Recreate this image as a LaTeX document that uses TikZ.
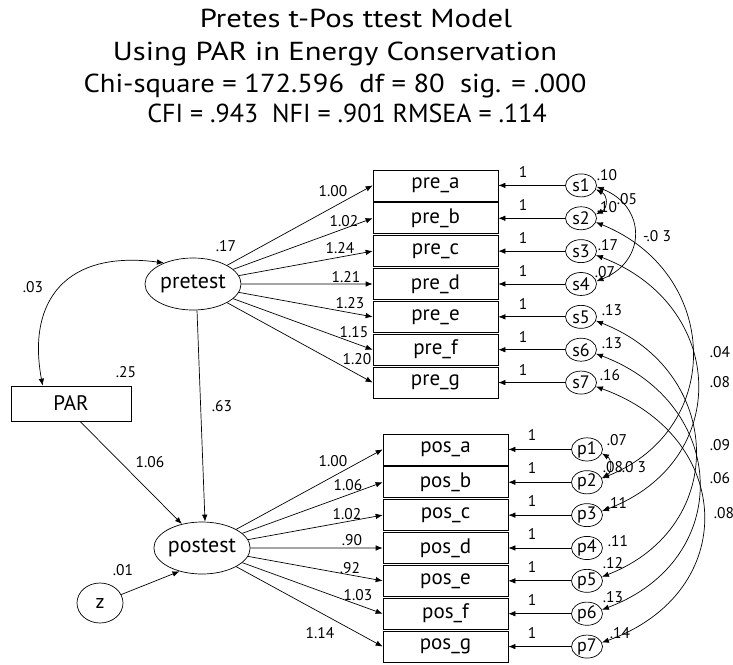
\documentclass[tikz,border=0pt]{standalone}
\usepackage{fontspec}
\setmainfont{PT Sans}
\newfontfamily\headfont[FakeStretch=1.18]{PT Sans}
\newfontfamily\headfontb[FakeStretch=1.1]{PT Sans}
\usetikzlibrary{arrows.meta,shapes.geometric}
\newcommand{\fsz}[1]{\fontsize{#1}{#1}\selectfont}
\begin{document}
\begin{tikzpicture}[x=1pt,y=-1pt,
  line width=0.7pt,
  tip/.tip={Latex[length=7pt,width=5.5pt]},
  arr/.style={-tip},
  cov/.style={tip-tip},
  ttl/.style={anchor=base,inner sep=0pt,font=\headfont\fsz{26}},
  lbl/.style={inner sep=0pt,font=\fsz{15.5}},
  obsbox/.style={draw,minimum width=125pt,minimum height=31pt,inner sep=0pt,font=\fsz{21}},
  errc/.style={draw,ellipse,minimum width=31pt,minimum height=23pt,inner sep=0pt,font=\fsz{18}},
  latent/.style={draw,ellipse,minimum width=96pt,minimum height=52pt,inner sep=0pt,font=\fsz{22}}]
\useasboundingbox (0,0) rectangle (733,664);

% heading
\node[ttl] (t1) at (356,27) {Pretes t-Pos ttest Model};
\node[ttl] (t2) at (335,60) {Using PAR in Energy Conservation};
\node[ttl,font=\headfontb\fsz{26}] (t3) at (335,92) {Chi-square = 172.596\ \ df = 80\ \ sig. = .000};
\node[ttl,font=\rmfamily\fsz{26}] (t4) at (347,122) {CFI = .943\ \ NFI = .901 RMSEA = .114};

% latent variables and PAR
\node[latent] (pretest) at (193,284) {pretest};
\node[latent] (postest) at (202,548) {postest};
\node[draw,minimum width=120pt,minimum height=35pt,inner sep=0pt,font=\fsz{21}] (PAR) at (71,403.5) {PAR};
\node[draw,ellipse,minimum width=46pt,minimum height=40pt,inner sep=0pt,font=\fsz{20}] (z) at (100,603) {z};

% indicators with their error terms
\foreach \n [count=\i] in {a,b,c,d,e,f,g} {
  \pgfmathsetmacro{\ya}{185.4+32.86*(\i-1)}
  \pgfmathsetmacro{\yb}{449.4+32.86*(\i-1)}
  \node[obsbox] (pre\n) at (435.5,\ya) {pre\_\n};
  \node[obsbox] (pos\n) at (445.5,\yb) {pos\_\n};
  \node[errc] (s\i) at (581,\ya) {s\i};
  \node[errc] (p\i) at (587,\yb) {p\i};
  \draw[arr] (s\i) -- (pre\n.east);
  \draw[arr] (p\i) -- (pos\n.east);
  \node[lbl] (ls\i) at (523,\ya-13) {1};
  \node[lbl] (lp\i) at (532,\yb-14) {1};
  \draw[arr] (pretest) -- (pre\n.west);
  \draw[arr] (postest) -- (pos\n.west);
}

% loadings
\foreach \v/\x/\y [count=\i] in {1.00/333/191,1.02/344/221,1.24/340/248,1.21/346/277,1.23/350/303,1.15/354/332,1.20/357/359}
  \node[lbl] (la\i) at (\x,\y) {\v};
\foreach \v/\x/\y [count=\i] in {1.00/333/461,1.06/348/485,1.02/347/514,.90/352/540,.92/350/568,1.03/358/595,1.14/320/633}
  \node[lbl] (lb\i) at (\x,\y) {\v};

% error variances
\foreach \v/\x/\y [count=\i] in {.10/607/175,.10/607/207,.17/608/245,.07/605/272,.13/612/310,.13/612/343,.16/610/375}
  \node[lbl] (vs\i) at (\x,\y) {\v};
\foreach \v/\x/\y [count=\i] in {.07/617/440,.08/613/467,.11/617/503,.11/618/541,.12/613/563,.13/613/597,.14/620/633}
  \node[lbl] (vp\i) at (\x,\y) {\v};

% structural paths
\draw[arr] ([xshift=4pt]pretest.south) -- ([xshift=3pt]postest.north);
\draw[arr] ([xshift=9pt]PAR.south) -- (postest.130);
\draw[arr] (z) -- (postest.226);
\draw[cov] ([xshift=32pt]PAR.north west) .. controls +(-16,-86) and +(-97,-13) .. (pretest.144);
\node[lbl] (l63) at (222,406) {.63};
\node[lbl] (l106) at (150,462) {1.06};
\node[lbl] (l01) at (123,570) {.01};
\node[lbl] (l03) at (33,287) {.03};
\node[lbl] (l25) at (126,372) {.25};
\node[lbl] (l17) at (226,246) {.17};

% error covariances
\draw[cov] (s1.-15) .. controls +(12,6) and +(12,-6) .. (s2.15);
\draw[cov] (s1.-5) .. controls +(50,20) and +(50,-20) .. (s4.10);
\draw[cov] (p1.-15) .. controls +(10,6) and +(10,-6) .. (p2.15);
\draw[cov] (s2.-15) .. controls +(124,50) and +(124,-50) .. (p2.15);
\draw[cov] (s3.-15) .. controls +(131,50) and +(131,-50) .. (p3.15);
\draw[cov] (s5.-15) .. controls +(128,50) and +(128,-50) .. (p5.15);
\draw[cov] (s6.-15) .. controls +(133,50) and +(133,-50) .. (p6.15);
\draw[cov] (s7.-15) .. controls +(139,50) and +(139,-50) .. (p7.15);
\node[lbl] (c1) at (627,199) {.05};
\node[lbl] (c2) at (657,236) {-.0 3};
\node[lbl] (c3) at (634,467) {.0 3};
\node[lbl] (c4) at (720,352) {.04};
\node[lbl] (c5) at (720,382) {.08};
\node[lbl] (c6) at (720,445) {.09};
\node[lbl] (c7) at (720,478) {.06};
\node[lbl] (c8) at (724,513) {.08};
\end{tikzpicture}
\end{document}
